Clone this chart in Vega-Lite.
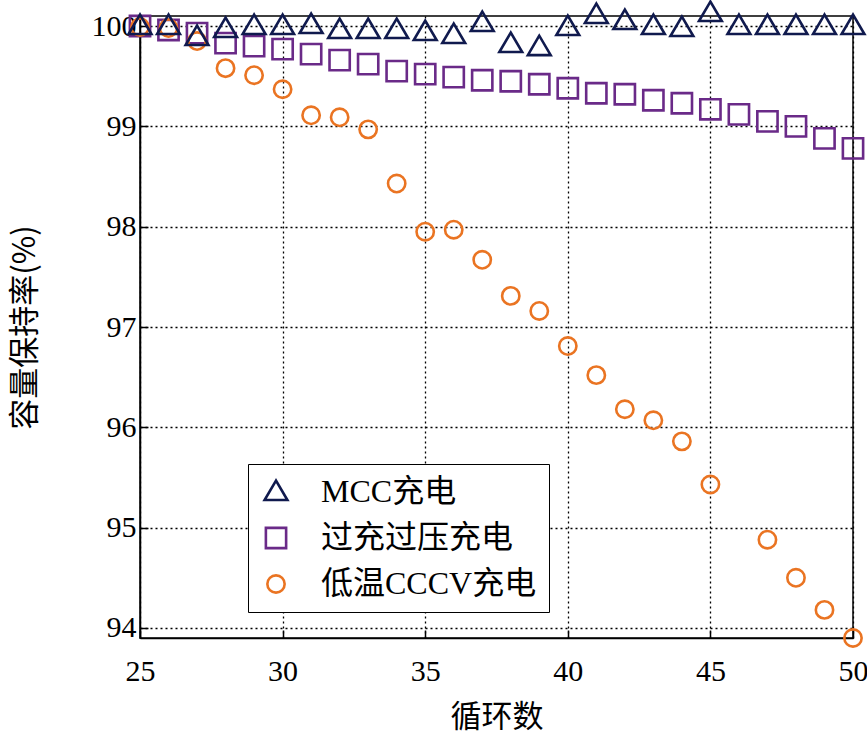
{
  "$schema": "https://vega.github.io/schema/vega-lite/v6.json",
  "autosize": "none",
  "width": 713,
  "height": 622,
  "padding": {"left": 140, "top": 16, "right": 14, "bottom": 98},
  "background": "white",
  "config": {
    "font": "Liberation Serif, 'Noto Sans CJK SC'",
    "view": {"stroke": "black", "strokeWidth": 1.5},
    "axis": {
      "domainColor": "black",
      "domainWidth": 1.5,
      "tickColor": "black",
      "tickWidth": 1.5,
      "labelColor": "black",
      "labelFontSize": 30,
      "labelFlush": false,
      "titleColor": "black",
      "titleFontSize": 31,
      "titleFontWeight": "normal",
      "grid": true,
      "gridColor": "black",
      "gridDash": [2, 3],
      "gridWidth": 1.3,
      "gridOpacity": 1
    }
  },
  "data": {
    "values": [
      {"cycle": 25, "series": "MCC充电", "value": 100.0},
      {"cycle": 26, "series": "MCC充电", "value": 100.0},
      {"cycle": 27, "series": "MCC充电", "value": 99.89},
      {"cycle": 28, "series": "MCC充电", "value": 99.97},
      {"cycle": 29, "series": "MCC充电", "value": 100.0},
      {"cycle": 30, "series": "MCC充电", "value": 100.0},
      {"cycle": 31, "series": "MCC充电", "value": 100.01},
      {"cycle": 32, "series": "MCC充电", "value": 99.96},
      {"cycle": 33, "series": "MCC充电", "value": 99.96},
      {"cycle": 34, "series": "MCC充电", "value": 99.96},
      {"cycle": 35, "series": "MCC充电", "value": 99.94},
      {"cycle": 36, "series": "MCC充电", "value": 99.91},
      {"cycle": 37, "series": "MCC充电", "value": 100.03},
      {"cycle": 38, "series": "MCC充电", "value": 99.82},
      {"cycle": 39, "series": "MCC充电", "value": 99.79},
      {"cycle": 40, "series": "MCC充电", "value": 99.99},
      {"cycle": 41, "series": "MCC充电", "value": 100.11},
      {"cycle": 42, "series": "MCC充电", "value": 100.05},
      {"cycle": 43, "series": "MCC充电", "value": 100.0},
      {"cycle": 44, "series": "MCC充电", "value": 99.98},
      {"cycle": 45, "series": "MCC充电", "value": 100.13},
      {"cycle": 46, "series": "MCC充电", "value": 100.0},
      {"cycle": 47, "series": "MCC充电", "value": 100.0},
      {"cycle": 48, "series": "MCC充电", "value": 100.0},
      {"cycle": 49, "series": "MCC充电", "value": 100.0},
      {"cycle": 50, "series": "MCC充电", "value": 100.0},
      {"cycle": 25, "series": "过充过压充电", "value": 100.0},
      {"cycle": 26, "series": "过充过压充电", "value": 99.96},
      {"cycle": 27, "series": "过充过压充电", "value": 99.93},
      {"cycle": 28, "series": "过充过压充电", "value": 99.83},
      {"cycle": 29, "series": "过充过压充电", "value": 99.8},
      {"cycle": 30, "series": "过充过压充电", "value": 99.77},
      {"cycle": 31, "series": "过充过压充电", "value": 99.72},
      {"cycle": 32, "series": "过充过压充电", "value": 99.66},
      {"cycle": 33, "series": "过充过压充电", "value": 99.62},
      {"cycle": 34, "series": "过充过压充电", "value": 99.55},
      {"cycle": 35, "series": "过充过压充电", "value": 99.52},
      {"cycle": 36, "series": "过充过压充电", "value": 99.49},
      {"cycle": 37, "series": "过充过压充电", "value": 99.46},
      {"cycle": 38, "series": "过充过压充电", "value": 99.45},
      {"cycle": 39, "series": "过充过压充电", "value": 99.42},
      {"cycle": 40, "series": "过充过压充电", "value": 99.38},
      {"cycle": 41, "series": "过充过压充电", "value": 99.33},
      {"cycle": 42, "series": "过充过压充电", "value": 99.32},
      {"cycle": 43, "series": "过充过压充电", "value": 99.26},
      {"cycle": 44, "series": "过充过压充电", "value": 99.23},
      {"cycle": 45, "series": "过充过压充电", "value": 99.17},
      {"cycle": 46, "series": "过充过压充电", "value": 99.12},
      {"cycle": 47, "series": "过充过压充电", "value": 99.05},
      {"cycle": 48, "series": "过充过压充电", "value": 99.0},
      {"cycle": 49, "series": "过充过压充电", "value": 98.88},
      {"cycle": 50, "series": "过充过压充电", "value": 98.78},
      {"cycle": 25, "series": "低温CCCV充电", "value": 99.99},
      {"cycle": 26, "series": "低温CCCV充电", "value": 99.98},
      {"cycle": 27, "series": "低温CCCV充电", "value": 99.85},
      {"cycle": 28, "series": "低温CCCV充电", "value": 99.58},
      {"cycle": 29, "series": "低温CCCV充电", "value": 99.51},
      {"cycle": 30, "series": "低温CCCV充电", "value": 99.37},
      {"cycle": 31, "series": "低温CCCV充电", "value": 99.11},
      {"cycle": 32, "series": "低温CCCV充电", "value": 99.09},
      {"cycle": 33, "series": "低温CCCV充电", "value": 98.97},
      {"cycle": 34, "series": "低温CCCV充电", "value": 98.43},
      {"cycle": 35, "series": "低温CCCV充电", "value": 97.95},
      {"cycle": 36, "series": "低温CCCV充电", "value": 97.97},
      {"cycle": 37, "series": "低温CCCV充电", "value": 97.67},
      {"cycle": 38, "series": "低温CCCV充电", "value": 97.31},
      {"cycle": 39, "series": "低温CCCV充电", "value": 97.16},
      {"cycle": 40, "series": "低温CCCV充电", "value": 96.81},
      {"cycle": 41, "series": "低温CCCV充电", "value": 96.52},
      {"cycle": 42, "series": "低温CCCV充电", "value": 96.18},
      {"cycle": 43, "series": "低温CCCV充电", "value": 96.07},
      {"cycle": 44, "series": "低温CCCV充电", "value": 95.86},
      {"cycle": 45, "series": "低温CCCV充电", "value": 95.43},
      {"cycle": 47, "series": "低温CCCV充电", "value": 94.88},
      {"cycle": 48, "series": "低温CCCV充电", "value": 94.5},
      {"cycle": 49, "series": "低温CCCV充电", "value": 94.18},
      {"cycle": 50, "series": "低温CCCV充电", "value": 93.9}
    ]
  },
  "mark": {"type": "point", "filled": false, "strokeWidth": 2.6, "opacity": 1, "clip": false},
  "encoding": {
    "x": {
      "field": "cycle",
      "type": "quantitative",
      "scale": {"domain": [25, 50], "nice": false, "zero": false},
      "axis": {"values": [25, 30, 35, 40, 45, 50], "title": "循环数", "tickSize": -8, "labelPadding": 26, "titlePadding": 16, "labelFont": "'Liberation Serif', 'Noto Sans CJK SC'", "titleFont": "'Noto Sans CJK SC'"}
    },
    "y": {
      "field": "value",
      "type": "quantitative",
      "scale": {"domain": [93.9, 100.1], "nice": false, "zero": false},
      "axis": {"values": [94, 95, 96, 97, 98, 99, 100], "title": "容量保持率(%)", "tickSize": -8, "labelPadding": 12, "titlePadding": 50, "labelFont": "'Liberation Serif', 'Noto Sans CJK SC'", "titleFont": "'Noto Sans CJK SC'"}
    },
    "color": {
      "field": "series",
      "type": "nominal",
      "scale": {"domain": ["MCC充电", "过充过压充电", "低温CCCV充电"], "range": ["#101a4e", "#6a2a88", "#ea7422"]},
      "legend": {
        "title": null,
        "orient": "none",
        "legendX": 108,
        "legendY": 448,
        "padding": 12,
        "strokeColor": "black",
        "fillColor": "white",
        "symbolSize": 240,
        "symbolStrokeWidth": 2.6,
        "labelFont": "Liberation Serif, 'Noto Sans CJK SC'",
        "labelFontSize": 32,
        "labelColor": "black",
        "labelOffset": 29,
        "rowPadding": 14,
        "labelLimit": 400
      }
    },
    "shape": {
      "field": "series",
      "type": "nominal",
      "scale": {"domain": ["MCC充电", "过充过压充电", "低温CCCV充电"], "range": ["M0,-1L-1,0.7L1,0.7Z", "square", "circle"]}
    },
    "size": {
      "field": "series",
      "type": "nominal",
      "scale": {"domain": ["MCC充电", "过充过压充电", "低温CCCV充电"], "range": [520, 300, 380]},
      "legend": null
    },
    "order": {"field": "series", "sort": "descending"}
  }
}
